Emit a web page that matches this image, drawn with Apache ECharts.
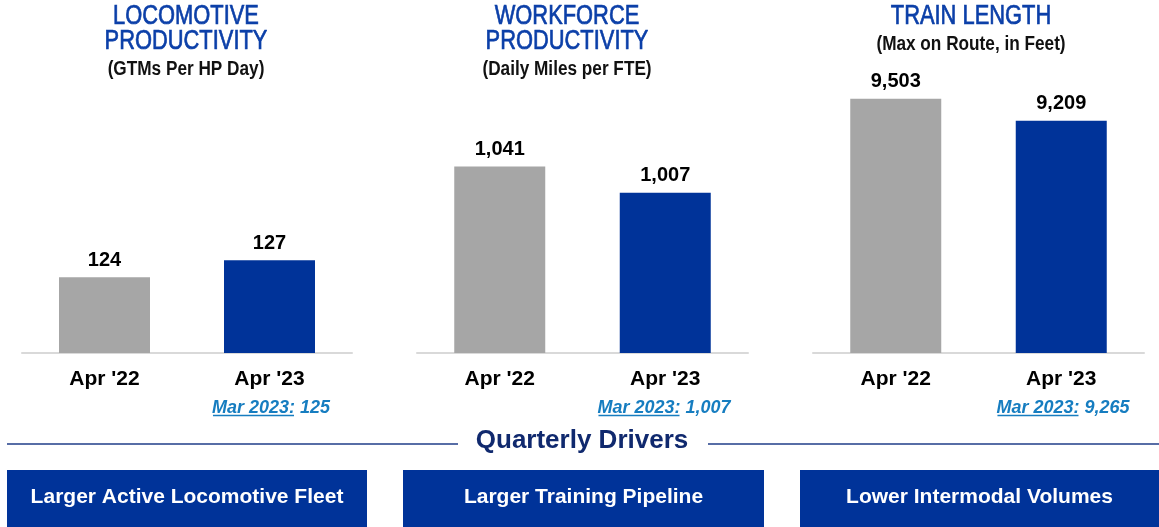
<!DOCTYPE html>
<html>
<head>
<meta charset="utf-8">
<script src="https://cdn.jsdelivr.net/npm/echarts@6/dist/echarts.min.js"></script>
<style>
  html, body { margin: 0; padding: 0; background: #fff; }
  #main { width: 1159px; height: 527px; }
</style>
</head>
<body>
<div id="main"></div>
<script>
// data
const categories = ["Apr '22", "Apr '23"]
const locoValues = [124, 127]
const workforceValues = [1041, 1007]
const trainLengthValues = [9503, 9209]
const marchLabel = 'Mar 2023:'
const marchValues = [125, 1007, 9265]
const titleLines = [['LOCOMOTIVE', 'PRODUCTIVITY'], ['WORKFORCE', 'PRODUCTIVITY'], ['TRAIN LENGTH']]
const subTitles = ['(GTMs Per HP Day)', '(Daily Miles per FTE)', '(Max on Route, in Feet)']
const driversTitle = 'Quarterly Drivers'
const drivers = ['Larger Active Locomotive Fleet', 'Larger Training Pipeline', 'Lower Intermodal Volumes']

// axis ranges (hidden value axes do not start at zero)
const yMins = [110.6, 800, 6100]
const yMaxs = [158.9, 1152.6, 9753]

const GRAY = '#A6A6A6'
const BLUE = '#003399'
const TITLE_BLUE = '#0B3FA8'
const NOTE_BLUE = '#167DC0'
const NAVY = '#10296E'
const SANS = '"Liberation Sans", Arial, sans-serif'

const grids = [
  { left: 22, width: 330 },
  { left: 417, width: 331 },
  { left: 813, width: 331 },
]
const titleCenters = [186, 567, 971]
const noteCenters = [271, 664, 1063]
const boxes = [
  { x: 7, w: 360 },
  { x: 403, w: 361 },
  { x: 800, w: 359 },
]
const seriesValues = [locoValues, workforceValues, trainLengthValues]

const chart = echarts.init(document.getElementById('main'))

// measure text for the underlined note
const ctx = document.createElement('canvas').getContext('2d')
const noteFont = 'italic bold 18px ' + SANS
ctx.font = noteFont
const measure = (t) => ctx.measureText(t).width

const graphics = []

// titles (narrow look via horizontal squeeze)
titleLines.forEach((lines, i) => {
  lines.forEach((line, j) => {
    graphics.push({
      type: 'text',
      x: titleCenters[i],
      y: 17 + j * 25,
      scaleX: 0.81,
      style: {
        text: line,
        fill: TITLE_BLUE,
        stroke: TITLE_BLUE,
        lineWidth: 0.7,
        font: '27px ' + SANS,
        textAlign: 'center',
        textVerticalAlign: 'middle',
      },
    })
  })
  graphics.push({
    type: 'text',
    x: titleCenters[i],
    y: 17 + lines.length * 25 + 2,
    scaleX: 0.86,
    style: {
      text: subTitles[i],
      fill: '#111',
      font: 'bold 20px ' + SANS,
      textAlign: 'center',
      textVerticalAlign: 'middle',
    },
  })
})

// march notes with underline
marchValues.forEach((v, i) => {
  const valueText = ' ' + echarts.format.addCommas(v)
  const w1 = measure(marchLabel)
  const total = w1 + measure(valueText)
  const x0 = noteCenters[i] - total / 2
  graphics.push({
    type: 'text',
    x: x0,
    y: 408,
    style: {
      text: marchLabel + valueText,
      fill: NOTE_BLUE,
      font: noteFont,
      textAlign: 'left',
      textVerticalAlign: 'middle',
    },
  })
  graphics.push({
    type: 'line',
    shape: { x1: x0 + 1, y1: 415.5, x2: x0 + w1 - 1, y2: 415.5 },
    style: { stroke: NOTE_BLUE, lineWidth: 1.5 },
  })
})

// quarterly drivers header
graphics.push({
  type: 'text',
  x: 582,
  y: 441,
  style: {
    text: driversTitle,
    fill: NAVY,
    font: 'bold 26px ' + SANS,
    textAlign: 'center',
    textVerticalAlign: 'middle',
  },
})
graphics.push({
  type: 'line',
  shape: { x1: 7, y1: 444, x2: 458, y2: 444 },
  style: { stroke: '#1F3C88', lineWidth: 1.5 },
})
graphics.push({
  type: 'line',
  shape: { x1: 708, y1: 444, x2: 1159, y2: 444 },
  style: { stroke: '#1F3C88', lineWidth: 1.5 },
})

// driver boxes
drivers.forEach((d, i) => {
  graphics.push({
    type: 'rect',
    shape: { x: boxes[i].x, y: 470, width: boxes[i].w, height: 57 },
    style: { fill: BLUE },
  })
  graphics.push({
    type: 'text',
    x: boxes[i].x + boxes[i].w / 2,
    y: 497,
    style: {
      text: d,
      fill: '#fff',
      font: 'bold 21px ' + SANS,
      textAlign: 'center',
      textVerticalAlign: 'middle',
    },
  })
})

const option = {
  animation: false,
  backgroundColor: '#fff',
  grid: grids.map((g) => ({ left: g.left, width: g.width, top: 80, bottom: 174 })),
  xAxis: grids.map((g, i) => ({
    type: 'category',
    gridIndex: i,
    data: categories,
    axisLine: { lineStyle: { color: '#D9D9D9', width: 2 } },
    axisTick: { show: false },
    axisLabel: {
      margin: 16,
      color: '#000',
      fontSize: 21,
      fontWeight: 'bold',
      fontFamily: SANS,
    },
  })),
  yAxis: grids.map((g, i) => ({
    type: 'value',
    gridIndex: i,
    min: yMins[i],
    max: yMaxs[i],
    show: false,
    splitLine: { show: false },
  })),
  series: seriesValues.map((vals, i) => ({
    type: 'bar',
    xAxisIndex: i,
    yAxisIndex: i,
    barWidth: 91,
    data: vals.map((v, j) => ({ value: v, itemStyle: { color: j === 0 ? GRAY : BLUE } })),
    label: {
      show: true,
      position: 'top',
      distance: 7,
      color: '#000',
      fontSize: 20,
      fontWeight: 'bold',
      fontFamily: SANS,
      formatter: (p) => echarts.format.addCommas(p.value),
    },
  })),
  graphic: graphics,
}

chart.setOption(option)
window.addEventListener('resize', () => chart.resize())
</script>
</body>
</html>
